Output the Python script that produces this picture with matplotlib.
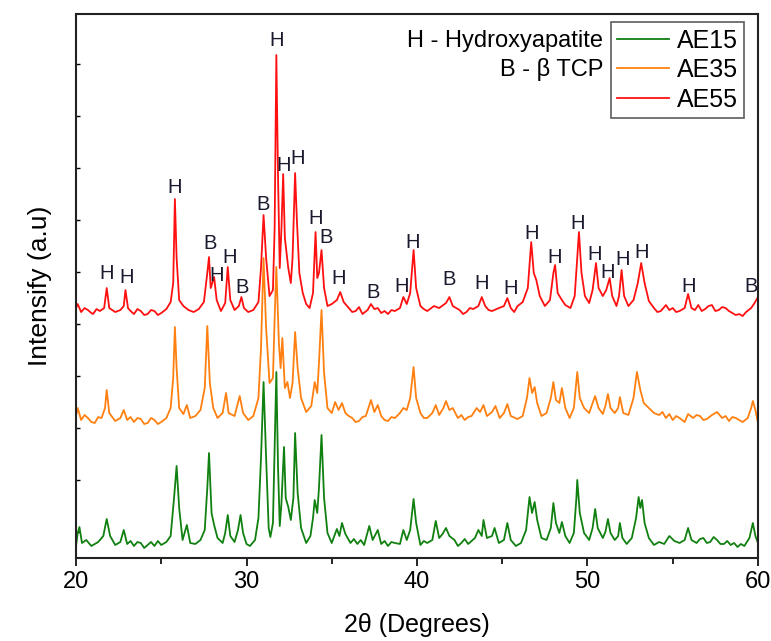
import numpy as np
import matplotlib.pyplot as plt

plt.rcParams['font.family'] = ['Liberation Sans', 'DejaVu Sans']

# XRD patterns (2theta in degrees, stacked intensity a.u.)
ae15_x = [20.0, 20.1, 20.2, 20.35, 20.6, 20.9, 21.3, 21.6, 21.8, 22.0, 22.3, 22.6, 22.8, 23.0, 23.2, 23.4,
          23.6, 23.8, 24.0, 24.2, 24.4, 24.6, 24.8, 25.0, 25.3, 25.55, 25.75, 25.9, 26.05, 26.25, 26.5, 26.7,
          27.0, 27.3, 27.55, 27.7, 27.8, 27.95, 28.1, 28.3, 28.6, 28.75, 28.9, 29.05, 29.3, 29.5, 29.65,
          29.8, 30.0, 30.2, 30.5, 30.7, 30.85, 31.0, 31.15, 31.3, 31.4, 31.55, 31.65, 31.75, 31.85, 31.95,
          32.05, 32.2, 32.3, 32.45, 32.6, 32.75, 32.85, 33.0, 33.2, 33.5, 33.75, 33.9, 34.0, 34.15, 34.25,
          34.4, 34.55, 34.75, 35.0, 35.3, 35.45, 35.6, 35.8, 36.1, 36.3, 36.5, 36.7, 36.9, 37.2, 37.4, 37.7,
          37.9, 38.1, 38.3, 38.5, 38.7, 39.0, 39.2, 39.4, 39.6, 39.8, 39.95, 40.2, 40.4, 40.6, 40.9, 41.1,
          41.3, 41.5, 41.7, 41.9, 42.2, 42.4, 42.6, 42.8, 43.0, 43.4, 43.6, 43.8, 43.9, 44.1, 44.4, 44.55,
          44.8, 45.1, 45.3, 45.5, 45.8, 46.1, 46.4, 46.6, 46.75, 46.9, 47.05, 47.3, 47.6, 47.85, 48.0, 48.15,
          48.35, 48.5, 48.7, 48.95, 49.2, 49.35, 49.4, 49.55, 49.8, 50.1, 50.3, 50.45, 50.6, 50.9, 51.05,
          51.2, 51.35, 51.6, 51.8, 51.9, 52.05, 52.3, 52.6, 52.85, 53.0, 53.1, 53.2, 53.35, 53.6, 53.9,
          54.2, 54.5, 54.8, 55.1, 55.4, 55.7, 55.9, 56.1, 56.4, 56.6, 56.8, 57.0, 57.2, 57.4, 57.6, 57.8,
          58.0, 58.2, 58.4, 58.6, 58.8, 59.0, 59.2, 59.5, 59.7, 59.85, 60.0]
ae15_y = [12, 25, 31, 15, 18, 12, 16, 22, 39, 22, 13, 16, 28, 14, 17, 12,
          16, 15, 10, 13, 16, 12, 17, 13, 16, 22, 60, 92, 50, 18, 33, 15,
          14, 18, 28, 70, 105, 45, 33, 20, 15, 25, 43, 22, 16, 28, 43,
          25, 14, 12, 18, 40, 100, 176, 100, 30, 21, 35, 110, 186, 90, 32,
          55, 111, 60, 51, 38, 60, 125, 65, 30, 15, 22, 40, 58, 45, 70,
          123, 60, 25, 15, 29, 22, 35, 24, 15, 19, 14, 18, 13, 32, 18, 28,
          14, 17, 12, 16, 15, 14, 28, 18, 28, 59, 35, 13, 17, 15, 18, 37,
          20, 24, 30, 22, 18, 12, 15, 19, 14, 20, 28, 22, 38, 20, 22, 30,
          15, 18, 35, 18, 12, 15, 28, 61, 45, 56, 38, 20, 18, 30, 55, 35,
          25, 36, 22, 15, 25, 60, 78, 45, 25, 18, 30, 49, 30, 20, 26,
          39, 25, 18, 22, 35, 20, 14, 20, 40, 61, 50, 58, 35, 20, 13,
          16, 14, 22, 17, 15, 18, 30, 18, 15, 19, 20, 15, 16, 21, 18, 14,
          14, 17, 13, 15, 11, 14, 12, 20, 35, 22, 15]

ae35_x = [20.0, 20.1, 20.3, 20.5, 20.7, 20.9, 21.1, 21.3, 21.5, 21.7, 21.8, 21.95, 22.3, 22.6, 22.8, 23.0,
          23.2, 23.4, 23.6, 23.8, 24.0, 24.2, 24.4, 24.6, 24.8, 25.0, 25.3, 25.55, 25.7, 25.8, 25.9, 26.05,
          26.3, 26.5, 26.7, 27.0, 27.3, 27.55, 27.7, 27.85, 28.05, 28.3, 28.6, 28.8, 28.95, 29.3, 29.6, 29.8,
          30.1, 30.4, 30.7, 30.85, 31.0, 31.15, 31.35, 31.55, 31.65, 31.75, 31.9, 32.0, 32.1, 32.25, 32.4,
          32.55, 32.7, 32.85, 33.0, 33.2, 33.5, 33.8, 34.0, 34.15, 34.25, 34.4, 34.55, 34.75, 35.0, 35.2,
          35.4, 35.6, 35.8, 36.0, 36.2, 36.4, 36.6, 36.8, 37.0, 37.3, 37.5, 37.7, 37.9, 38.1, 38.3, 38.5,
          38.7, 39.0, 39.2, 39.4, 39.6, 39.8, 39.95, 40.2, 40.4, 40.6, 40.9, 41.1, 41.3, 41.55, 41.7, 41.9,
          42.1, 42.4, 42.6, 42.8, 43.0, 43.2, 43.5, 43.7, 43.9, 44.1, 44.4, 44.6, 44.85, 45.1, 45.3, 45.5,
          45.9, 46.2, 46.45, 46.6, 46.75, 46.9, 47.05, 47.3, 47.6, 47.85, 48.0, 48.15, 48.35, 48.5, 48.7,
          48.95, 49.2, 49.4, 49.55, 49.8, 50.1, 50.3, 50.45, 50.65, 50.9, 51.05, 51.2, 51.35, 51.6, 51.8,
          51.9, 52.1, 52.4, 52.7, 52.9, 53.1, 53.3, 53.6, 53.9, 54.2, 54.4, 54.6, 54.8, 55.0, 55.2, 55.4,
          55.7, 55.9, 56.2, 56.4, 56.6, 56.8, 57.0, 57.3, 57.6, 57.9, 58.1, 58.3, 58.5, 58.7, 58.9, 59.1,
          59.4, 59.6, 59.7, 59.85, 60.0]
ae35_y = [142, 150, 138, 143, 140, 136, 135, 141, 140, 150, 168, 145, 137, 140, 148, 138,
          141, 136, 140, 139, 134, 135, 140, 138, 134, 136, 140, 150, 180, 231, 190, 150,
          144, 153, 140, 142, 148, 170, 232, 175, 150, 140, 145, 165, 145, 142, 162, 145,
          138, 142, 160, 210, 300, 230, 175, 180, 240, 291, 215, 190, 220, 170, 176,
          160, 175, 226, 190, 160, 146, 152, 176, 165, 195, 248, 185, 150, 145, 156,
          148, 155, 145, 142, 140, 136, 137, 141, 142, 158, 146, 153, 142, 138, 137, 141,
          140, 145, 150, 148, 160, 191, 160, 145, 140, 140, 145, 153, 143, 150, 157, 148,
          150, 140, 143, 138, 141, 142, 150, 146, 153, 142, 146, 152, 140, 145, 154, 142,
          139, 142, 160, 180, 165, 171, 155, 142, 145, 160, 176, 158, 155, 170, 150,
          140, 150, 186, 160, 150, 145, 155, 162, 150, 144, 152, 164, 150, 145, 150,
          161, 145, 143, 160, 186, 168, 155, 150, 145, 143, 146, 140, 144, 138, 142, 140,
          136, 144, 140, 143, 142, 138, 139, 143, 146, 140, 142, 137, 141, 140, 138, 136,
          140, 150, 157, 148, 135]

ae55_x = [20.0, 20.1, 20.3, 20.5, 20.7, 20.9, 21.0, 21.2, 21.4, 21.65, 21.8, 21.95, 22.3, 22.6, 22.8, 22.9,
          23.05, 23.2, 23.4, 23.6, 23.8, 24.0, 24.2, 24.4, 24.6, 24.8, 25.0, 25.3, 25.55, 25.7, 25.8, 25.9,
          26.05, 26.3, 26.6, 26.9, 27.2, 27.5, 27.7, 27.8, 27.9, 28.1, 28.25, 28.5, 28.75, 28.9, 29.05, 29.3,
          29.55, 29.7, 29.85, 30.1, 30.4, 30.7, 30.85, 31.0, 31.15, 31.35, 31.55, 31.65, 31.75, 31.85, 31.95,
          32.05, 32.15, 32.25, 32.45, 32.6, 32.7, 32.85, 32.95, 33.1, 33.3, 33.5, 33.7, 33.9, 34.05, 34.15,
          34.25, 34.4, 34.55, 34.75, 35.0, 35.3, 35.5, 35.7, 36.0, 36.2, 36.4, 36.6, 36.8, 37.1, 37.3, 37.5,
          37.7, 37.9, 38.1, 38.3, 38.5, 38.7, 39.0, 39.2, 39.4, 39.6, 39.8, 39.95, 40.2, 40.4, 40.6, 41.0,
          41.3, 41.7, 41.9, 42.1, 42.3, 42.5, 42.7, 42.9, 43.1, 43.3, 43.6, 43.8, 44.0, 44.2, 44.4, 44.8,
          45.1, 45.3, 45.5, 45.7, 45.9, 46.2, 46.5, 46.7, 46.85, 47.0, 47.2, 47.5, 47.8, 48.0, 48.1, 48.25,
          48.5, 48.7, 49.0, 49.25, 49.4, 49.5, 49.65, 49.85, 50.1, 50.3, 50.5, 50.65, 50.9, 51.1, 51.3,
          51.45, 51.7, 51.85, 52.0, 52.15, 52.4, 52.7, 52.95, 53.15, 53.35, 53.6, 53.9, 54.1, 54.3, 54.6,
          54.8, 55.0, 55.2, 55.4, 55.7, 55.9, 56.1, 56.3, 56.5, 56.7, 56.9, 57.1, 57.3, 57.5, 57.7, 57.9,
          58.1, 58.3, 58.5, 58.7, 58.9, 59.1, 59.3, 59.6, 59.8, 60.0]
ae55_y = [250, 254, 246, 250, 248, 245, 244, 249, 247, 250, 270, 250, 246, 248, 252, 268,
          250, 247, 244, 249, 247, 243, 244, 248, 247, 243, 245, 249, 256, 275, 359, 300,
          258, 252, 248, 246, 249, 256, 285, 301, 270, 281, 258, 247, 255, 291, 258, 248,
          252, 261, 250, 246, 248, 256, 290, 343, 300, 262, 268, 330, 503, 380, 290,
          330, 384, 320, 290, 275, 300, 385, 340, 285, 265, 254, 250, 265, 326, 280,
          285, 308, 270, 252, 254, 258, 266, 256, 250, 246, 247, 251, 244, 248, 254, 249,
          250, 245, 247, 244, 248, 247, 250, 261, 254, 265, 308, 270, 252, 249, 247, 252,
          250, 255, 261, 252, 250, 248, 244, 246, 250, 249, 252, 261, 252, 248, 247, 250,
          252, 260, 250, 246, 252, 256, 270, 316, 285, 278, 262, 252, 258, 285, 293, 265,
          258, 253, 250, 262, 300, 326, 285, 262, 255, 268, 295, 270, 262, 268, 280,
          262, 252, 262, 288, 262, 252, 258, 275, 295, 275, 257, 250, 246, 247, 253,
          248, 250, 246, 247, 250, 264, 250, 248, 253, 247, 249, 252, 253, 247, 248, 251,
          250, 247, 245, 243, 244, 242, 246, 250, 255, 261]

# phase labels on the AE55 pattern
label_text = ['H', 'H', 'H', 'B', 'H', 'H', 'B', 'B', 'H', 'H', 'H', 'H', 'B', 'H', 'B',
              'H', 'H', 'B', 'H', 'H', 'H', 'H', 'H', 'H', 'H', 'H', 'H', 'H', 'B']
label_x = [21.8, 22.95, 25.8, 27.85, 28.25, 29.0, 29.75, 31.0, 31.75, 32.2, 33.0, 34.05, 34.65, 35.4, 37.45,
           39.1, 39.75, 41.9, 43.8, 45.5, 46.7, 48.1, 49.45, 50.4, 51.2, 52.05, 53.15, 55.95, 59.6]
label_y = [285, 281, 371, 315, 283, 301, 271, 354, 518, 393, 400, 340, 321, 280, 266,
           272, 316, 279, 275, 270, 325, 301, 335, 304, 286, 299, 306, 272, 272]

fig = plt.figure(figsize=(7.71, 6.41), dpi=100)
ax = fig.add_axes([0.0986, 0.1295, 0.8845, 0.8485])

ax.plot(ae15_x, ae15_y, color='#108010', lw=1.3, label='AE15')
ax.plot(ae35_x, ae35_y, color='#ff8010', lw=1.3, label='AE35')
ax.plot(ae55_x, ae55_y, color='#ff1010', lw=1.3, label='AE55')

for t, x, y in zip(label_text, label_x, label_y):
    ax.text(x, y, t, ha='center', va='center', fontsize=14.5, color='#1a1a2e')

ax.text(0.773, 0.95, 'H - Hydroxyapatite', transform=ax.transAxes, ha='right', va='center', fontsize=17)
ax.text(0.773, 0.898, 'B - \u03b2 TCP', transform=ax.transAxes, ha='right', va='center', fontsize=17)

leg = ax.legend(loc='upper right', bbox_to_anchor=(0.98, 0.985), fontsize=18, frameon=True,
                fancybox=False, edgecolor='#333333', handlelength=2.1, handletextpad=0.3,
                borderpad=0.25, labelspacing=0.22, borderaxespad=0)
leg.get_frame().set_linewidth(1.2)

ax.set_xlim(20, 60)
ax.set_ylim(0, 544)
ax.set_xticks([20, 30, 40, 50, 60])
ax.set_xticks([25, 35, 45, 55], minor=True)
ax.set_yticks(np.arange(26, 544, 52))
ax.set_yticklabels([])
ax.tick_params(axis='x', direction='out', length=6, width=1.2, labelsize=17)
ax.tick_params(axis='x', which='minor', direction='out', length=4, width=1.2)
ax.tick_params(axis='y', direction='in', length=3, width=1)
for s in ax.spines.values():
    s.set_linewidth(1.5)
    s.set_color('#222222')

ax.set_xlabel('2\u03b8 (Degrees)', fontsize=18, labelpad=14)
ax.set_ylabel('Intensify (a.u)', fontsize=19, labelpad=14)

fig.savefig('out.png', dpi=100)
